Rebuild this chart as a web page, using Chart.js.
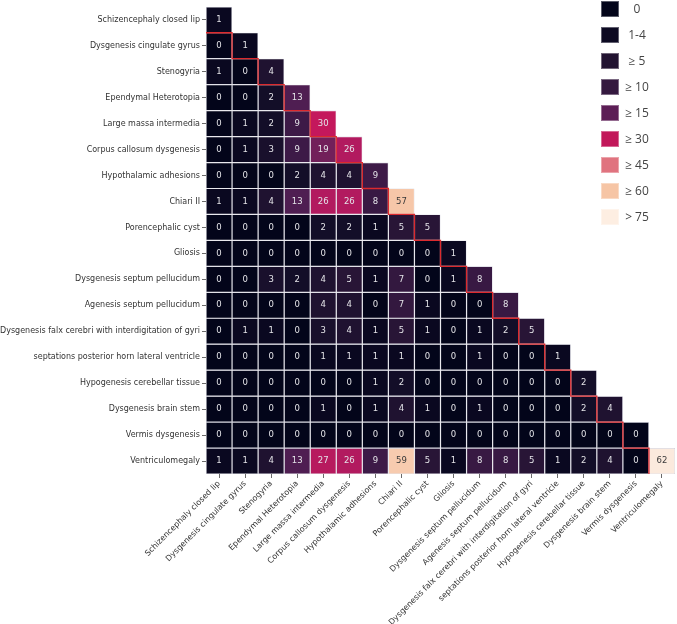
<!DOCTYPE html>
<html>
<head>
<meta charset="utf-8">
<script src="https://cdn.jsdelivr.net/npm/chart.js@4.4.1/dist/chart.umd.min.js"></script>
<style>
  html, body { margin: 0; padding: 0; background: #fff; }
  #wrap { position: relative; width: 677px; height: 624px; }
  #legend { position: absolute; left: 601px; top: 1px; font-family: "Open Sans", sans-serif; font-size: 12px; color: #444; }
  .row { height: 26px; display: flex; align-items: flex-start; }
  .sw { width: 18px; height: 16px; box-sizing: border-box; border: 1px solid rgba(255,255,255,0.35); }
  .lb { width: 34px; text-align: center; line-height: 16px; margin-left: 1px; }
</style>
</head>
<body>
<div id="wrap">
  <canvas id="chart" width="677" height="624"></canvas>
  <div id="legend"></div>
</div>
<script>
'use strict'

let labels = [
    'Schizencephaly closed lip',
    'Dysgenesis cingulate gyrus',
    'Stenogyria',
    'Ependymal Heterotopia',
    'Large massa intermedia',
    'Corpus callosum dysgenesis',
    'Hypothalamic adhesions',
    'Chiari II',
    'Porencephalic cyst',
    'Gliosis',
    'Dysgenesis septum pellucidum',
    'Agenesis septum pellucidum',
    'Dysgenesis falx cerebri with interdigitation of gyri',
    'septations posterior horn lateral ventricle',
    'Hypogenesis cerebellar tissue',
    'Dysgenesis brain stem',
    'Vermis dysgenesis',
    'Ventriculomegaly'
];

// lower triangle, one row per label
let counts = [
    [1],
    [0, 1],
    [1, 0, 4],
    [0, 0, 2, 13],
    [0, 1, 2, 9, 30],
    [0, 1, 3, 9, 19, 26],
    [0, 0, 0, 2, 4, 4, 9],
    [1, 1, 4, 13, 26, 26, 8, 57],
    [0, 0, 0, 0, 2, 2, 1, 5, 5],
    [0, 0, 0, 0, 0, 0, 0, 0, 0, 1],
    [0, 0, 3, 2, 4, 5, 1, 7, 0, 1, 8],
    [0, 0, 0, 0, 4, 4, 0, 7, 1, 0, 0, 8],
    [0, 1, 1, 0, 3, 4, 1, 5, 1, 0, 1, 2, 5],
    [0, 0, 0, 0, 1, 1, 1, 1, 0, 0, 1, 0, 0, 1],
    [0, 0, 0, 0, 0, 0, 1, 2, 0, 0, 0, 0, 0, 0, 2],
    [0, 0, 0, 0, 1, 0, 1, 4, 1, 0, 1, 0, 0, 0, 2, 4],
    [0, 0, 0, 0, 0, 0, 0, 0, 0, 0, 0, 0, 0, 0, 0, 0, 0],
    [1, 1, 4, 13, 27, 26, 9, 59, 5, 1, 8, 8, 5, 1, 2, 4, 0, 62]
];

let legendLabels = ['0', '1-4', '\u2265 5', '\u2265 10', '\u2265 15', '\u2265 30', '\u2265 45', '\u2265 60', '> 75'];
let legendColors = ['#03051a', '#0d0a22', '#221331', '#35193f', '#5c1e56', '#c2185a', '#e0737f', '#f6c5a5', '#fdeee2'];

// colour scale (value -> colour), rocket-like
let colorStops = [
    [0, '#03051a'], [1, '#0a0820'], [2, '#130e28'], [4, '#1f1230'], [5, '#281536'],
    [9, '#3d1a47'], [13, '#4f1e52'], [19, '#72205a'], [26, '#b21a5f'], [30, '#c4185c'],
    [45, '#e66a6a'], [57, '#f6c7a9'], [60, '#f7cdb2'], [62, '#fbeadd']
];

function hexToRgb(h) {
    return [parseInt(h.slice(1, 3), 16), parseInt(h.slice(3, 5), 16), parseInt(h.slice(5, 7), 16)];
}

function cellColor(v) {
    for (let k = 1; k < colorStops.length; k++) {
        if (v <= colorStops[k][0]) {
            let a = colorStops[k - 1], b = colorStops[k];
            let t = (v - a[0]) / (b[0] - a[0]);
            let ca = hexToRgb(a[1]), cb = hexToRgb(b[1]);
            let c = ca.map((x, n) => Math.round(x + (cb[n] - x) * t));
            return 'rgb(' + c.join(',') + ')';
        }
    }
    return colorStops[colorStops.length - 1][1];
}

// legend
let legendElem = document.getElementById('legend');
for (let i = 0; i < legendLabels.length; i++) {
    let row = document.createElement('div');
    row.className = 'row';
    row.innerHTML = '<div class="sw" style="background:' + legendColors[i] + '"></div><div class="lb">' + legendLabels[i] + '</div>';
    legendElem.appendChild(row);
}

let datasets = [];
for (let i = 0; i < counts.length; i++) {
    let data = [];
    let colors = [];
    for (let j = 0; j < labels.length; j++) {
        if (j < counts[i].length) {
            data.push([i, i + 1]);
            colors.push(cellColor(counts[i][j]));
        } else {
            data.push(null);
            colors.push('rgba(0,0,0,0)');
        }
    }
    datasets.push({
        type: 'bar',
        data: data,
        backgroundColor: colors,
        borderColor: 'rgba(190,190,205,0.75)',
        borderWidth: 0.6,
        borderSkipped: false,
        inflateAmount: 0,
        grouped: false,
        barPercentage: 1,
        categoryPercentage: 1,
        order: 2
    });
}

// red staircase along the diagonal
let stairs = [];
for (let i = 0; i < labels.length; i++) {
    stairs.push({ x: i, y: i + 1 });
    if (i + 1 < labels.length) stairs.push({ x: i + 1, y: i + 1 });
}
datasets.push({
    type: 'line',
    data: stairs,
    xAxisID: 'xl',
    borderColor: '#dc2a2e',
    borderWidth: 1.3,
    pointRadius: 0,
    fill: false,
    order: 0
});

let cellText = {
    id: 'cellText',
    afterDatasetsDraw(chart) {
        let ctx = chart.ctx;
        ctx.save();
        ctx.font = '8.5px "DejaVu Sans"';
        ctx.textAlign = 'center';
        ctx.textBaseline = 'middle';
        for (let i = 0; i < counts.length; i++) {
            let meta = chart.getDatasetMeta(i);
            for (let j = 0; j < counts[i].length; j++) {
                let el = meta.data[j];
                let p = el.getCenterPoint();
                ctx.fillStyle = counts[i][j] >= 50 ? '#3a3a3a' : '#e4e4e8';
                ctx.fillText(counts[i][j], p.x, p.y);
            }
        }
        ctx.restore();
    }
};

let tickFont = { family: 'DejaVu Sans', size: 8 };

let chartObj = {
    type: 'bar',
    data: {
        labels: labels,
        datasets: datasets
    },
    options: {
        responsive: false,
        animation: false,
        layout: { padding: { top: 2, right: 2, left: 0, bottom: 0 } },
        scales: {
            x: {
                type: 'category',
                offset: true,
                grid: { offset: false, drawOnChartArea: false, tickLength: 4, color: '#444', tickWidth: 0.8 },
                border: { display: false },
                ticks: { font: tickFont, color: '#333', minRotation: 45, maxRotation: 45, padding: 1, autoSkip: false },
                afterFit: (axis) => { axis.height = 150; }
            },
            xl: {
                type: 'linear',
                display: false,
                offset: false,
                grid: { offset: false },
                min: 0,
                max: labels.length
            },
            y: {
                type: 'linear',
                min: 0,
                max: labels.length,
                reverse: true,
                afterBuildTicks: (axis) => {
                    axis.ticks = labels.map((l, i) => ({ value: i + 0.5 }));
                },
                grid: { drawOnChartArea: false, tickLength: 4, color: '#444', tickWidth: 0.8 },
                border: { display: false },
                ticks: {
                    font: tickFont,
                    color: '#333',
                    padding: 2,
                    autoSkip: false,
                    callback: (v) => labels[Math.floor(v)]
                },
                afterFit: (axis) => { axis.width = 206; }
            }
        },
        plugins: {
            legend: { display: false },
            tooltip: { enabled: false }
        }
    },
    plugins: [cellText]
};

new Chart(document.getElementById('chart'), chartObj);
</script>
</body>
</html>
